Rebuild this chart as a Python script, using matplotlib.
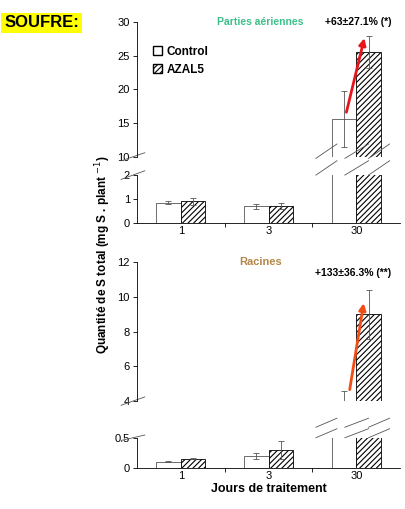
import matplotlib
matplotlib.use('Agg')
import matplotlib.pyplot as plt
import numpy as np
from matplotlib.patches import Patch

jours = ['1', '3', '30']
# parties aériennes
aer_ctrl = [0.85, 0.70, 15.6]
aer_ctrl_err = [0.07, 0.10, 4.2]
aer_azal = [0.90, 0.72, 25.5]
aer_azal_err = [0.15, 0.13, 2.4]
# racines
rac_ctrl = [0.10, 0.20, 3.9]
rac_ctrl_err = [0.01, 0.05, 0.7]
rac_azal = [0.15, 0.30, 9.0]
rac_azal_err = [0.01, 0.15, 1.4]

plt.rcParams['font.family'] = ['Liberation Sans', 'DejaVu Sans']
plt.rcParams['hatch.linewidth'] = 0.8

fig = plt.figure(figsize=(4.05, 5.09), dpi=100)
x = np.arange(len(jours))
w = 0.28


def draw(ax, ctrl, cerr, azal, aerr):
    ax.bar(x - w / 2, ctrl, w, color='white', edgecolor='#555555', linewidth=0.6,
           yerr=cerr, error_kw=dict(ecolor='#555555', capsize=2, elinewidth=0.6, capthick=0.6))
    ax.bar(x + w / 2, azal, w, color='white', edgecolor='black', hatch='//////', linewidth=0.6,
           yerr=aerr, error_kw=dict(ecolor='#555555', capsize=2, elinewidth=0.6, capthick=0.6))
    ax.set_xlim(-0.5, 2.5)
    ax.spines[['top', 'right']].set_visible(False)
    ax.tick_params(labelsize=8, length=3, width=0.6, pad=2)
    for s in ax.spines.values():
        s.set_linewidth(0.6)


# top panel
a1 = fig.add_axes([0.338, 0.692, 0.65, 0.265])
a2 = fig.add_axes([0.338, 0.562, 0.65, 0.094])
draw(a1, aer_ctrl, aer_ctrl_err, aer_azal, aer_azal_err)
draw(a2, aer_ctrl, aer_ctrl_err, aer_azal, aer_azal_err)
a1.set_ylim(10, 30)
a1.set_yticks([10, 15, 20, 25, 30])
a2.set_ylim(0, 2)
a2.set_yticks([0, 1, 2])

# bottom panel
b1 = fig.add_axes([0.338, 0.212, 0.65, 0.273])
b2 = fig.add_axes([0.338, 0.081, 0.65, 0.059])
draw(b1, rac_ctrl, rac_ctrl_err, rac_azal, rac_azal_err)
draw(b2, rac_ctrl, rac_ctrl_err, rac_azal, rac_azal_err)
b1.set_ylim(4, 12)
b1.set_yticks([4, 6, 8, 10, 12])
b2.set_ylim(0, 0.5)
b2.set_yticks([0, 0.5], ['0', '0.5'])
b2.set_xlabel('Jours de traitement', fontsize=9, fontweight='bold', labelpad=2)

for hi, lo in ((a1, a2), (b1, b2)):
    hi.spines['bottom'].set_visible(False)
    hi.set_xticks([])
    lo.set_xticks(x, jours)
    lo.set_xticks([0.5, 1.5], minor=True)
    lo.tick_params(axis='x', which='minor', length=3, width=0.6)
    lo.tick_params(axis='x', length=0)
    # break marks on the y axis
    for ax, y0 in ((hi, 0.0), (lo, 1.0)):
        d = 0.03 if ax is hi else 0.09
        ax.plot([-0.06, 0.03], [y0 - d, y0 + d], transform=ax.transAxes,
                color='#555555', lw=0.6, clip_on=False)
    # break marks through the day-30 bars
    for x0, x1 in ((0.68, 0.76), (0.79, 0.88), (0.88, 0.96)):
        for dy in (0.0, 0.35):
            lo.plot([x0, x1], [1.0 + dy, 1.3 + dy], transform=lo.transAxes,
                    color='#555555', lw=0.6, clip_on=False)

# legend
a1.legend(handles=[Patch(facecolor='white', edgecolor='black', label='Control'),
                   Patch(facecolor='white', edgecolor='black', hatch='//////', label='AZAL5')],
          loc='upper left', bbox_to_anchor=(0.02, 0.9), frameon=False,
          prop=dict(size=8.5, weight='bold'), handlelength=0.8, handleheight=0.8, handletextpad=0.4)

# titles and annotations
a1.text(0.47, 1.0, 'Parties aériennes', transform=a1.transAxes, ha='center', va='center',
        color='#3dbf8a', fontsize=7.5, fontweight='bold')
a1.text(0.84, 1.0, '+63±27.1% (*)', transform=a1.transAxes, ha='center', va='center',
        fontsize=7.5, fontweight='bold')
a1.annotate('', xy=(2.1, 28), xytext=(1.88, 16.2),
            arrowprops=dict(arrowstyle='-|>', color='#e8141c', lw=2, mutation_scale=10))
b1.text(0.47, 1.0, 'Racines', transform=b1.transAxes, ha='center', va='center',
        color='#b5864a', fontsize=8, fontweight='bold')
b1.text(0.82, 0.92, '+133±36.3% (**)', transform=b1.transAxes, ha='center', va='center',
        fontsize=7.5, fontweight='bold')
b1.annotate('', xy=(2.09, 9.8), xytext=(1.92, 4.5),
            arrowprops=dict(arrowstyle='-|>', color='#f04e16', lw=2, mutation_scale=10))

fig.text(0.255, 0.5, 'Quantité de S total (mg S . plant $^{-1}$)', rotation=90,
         ha='center', va='center', fontsize=8.5, fontweight='bold')
fig.text(0.01, 0.955, 'SOUFRE:', fontsize=12, fontweight='bold', ha='left', va='center',
         bbox=dict(facecolor='#ffff00', edgecolor='none', pad=2))

fig.savefig('out.png', dpi=100)
